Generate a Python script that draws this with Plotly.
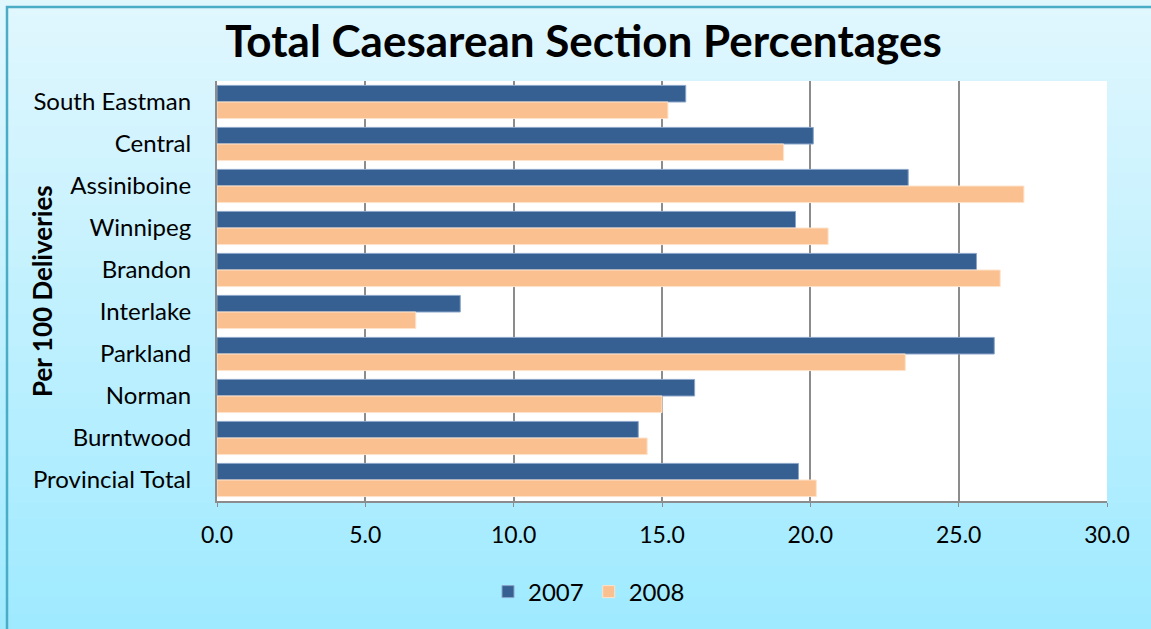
import plotly.graph_objects as go

categories = ["South Eastman", "Central", "Assiniboine", "Winnipeg", "Brandon",
              "Interlake", "Parkland", "Norman", "Burntwood", "Provincial Total"]
values_2007 = [15.8, 20.1, 23.3, 19.5, 25.6, 8.2, 26.2, 16.1, 14.2, 19.6]
values_2008 = [15.2, 19.1, 27.2, 20.6, 26.4, 6.7, 23.2, 15.0, 14.5, 20.2]
x_ticks = [0, 5, 10, 15, 20, 25, 30]
x_tick_labels = ["0.0", "5.0", "10.0", "15.0", "20.0", "25.0", "30.0"]

W, H = 1151, 629
L, R, T, B = 217, 44, 81, 128
PW, PH = W - L - R, H - T - B

FONT = "Lato"

def px_x(px):
    return (px - L) / PW

def px_y(py):
    return (H - B - py) / PH

fig = go.Figure()
fig.add_trace(go.Bar(
    y=categories, x=values_2007, name="2007", orientation="h",
    marker=dict(color="#366092", line=dict(color="#8aa5c8", width=1)),
))
fig.add_trace(go.Bar(
    y=categories, x=values_2008, name="2008", orientation="h",
    marker=dict(color="#fac090", line=dict(color="#fde3cc", width=1)),
))

# background gradient strips
shapes = []
top_c = (0xE0, 0xF7, 0xFE)
bot_c = (0xA0, 0xEA, 0xFF)
n = 40
for i in range(n):
    t = i / (n - 1)
    c = tuple(round(top_c[k] + (bot_c[k] - top_c[k]) * t) for k in range(3))
    y0 = i * H / n
    y1 = (i + 1) * H / n + 1
    shapes.append(dict(type="rect", xref="paper", yref="paper",
                       x0=px_x(-5), x1=px_x(W + 5), y0=px_y(y1), y1=px_y(y0),
                       fillcolor="rgb(%d,%d,%d)" % c, line=dict(width=0), layer="below"))
# plot area white
shapes.append(dict(type="rect", xref="paper", yref="paper", x0=0, x1=1, y0=0, y1=1,
                   fillcolor="white", line=dict(width=0), layer="below"))
# outer border
shapes.append(dict(type="rect", xref="paper", yref="paper",
                   x0=px_x(7), x1=px_x(W + 10), y0=px_y(H + 10), y1=px_y(7),
                   fillcolor="rgba(0,0,0,0)", line=dict(color="#4bacc6", width=2.5),
                   layer="above"))

fig.update_layout(
    width=W, height=H,
    margin=dict(l=L, r=R, t=T, b=B),
    paper_bgcolor="#c4f0fd",
    plot_bgcolor="white",
    barmode="group",
    bargap=0.21,
    bargroupgap=0,
    font=dict(family=FONT, color="black"),
    title=dict(text="<b>Total Caesarean Section Percentages</b>",
               font=dict(family=FONT, size=44, color="black"),
               xref="container", yref="container",
               x=583.5 / W, y=1 - 42 / H, xanchor="center", yanchor="middle"),
    xaxis=dict(range=[0, 30], tickvals=x_ticks, ticktext=x_tick_labels,
               showgrid=True, gridcolor="#8c8c8c", gridwidth=1.5,
               showline=True, linecolor="#8c8c8c", linewidth=2,
               ticks="outside", ticklen=4, tickcolor="#8c8c8c",
               tickfont=dict(family=FONT, size=23, color="black"),
               ticklabelstandoff=8, zeroline=False),
    yaxis=dict(autorange="reversed", showgrid=False,
               showline=True, linecolor="#8c8c8c", linewidth=2,
               ticks="", tickfont=dict(family=FONT, size=24, color="black"),
               ticklabelstandoff=19),
    legend=dict(orientation="h", xref="container", yref="container",
                x=589 / W, y=1 - 592 / H, xanchor="center", yanchor="middle",
                font=dict(family=FONT, size=24, color="black"),
                bgcolor="rgba(0,0,0,0)", traceorder="normal"),
    shapes=shapes,
    annotations=[dict(text="<b>Per 100 Deliveries</b>", textangle=-90,
                      xref="paper", yref="paper", x=px_x(42), y=0.5,
                      xanchor="center", yanchor="middle", showarrow=False,
                      font=dict(family=FONT, size=26, color="black"))],
)

fig.write_html("out.html", config={"displayModeBar": False},
               post_script="document.body.style.margin='0px';document.body.style.padding='0px';")
